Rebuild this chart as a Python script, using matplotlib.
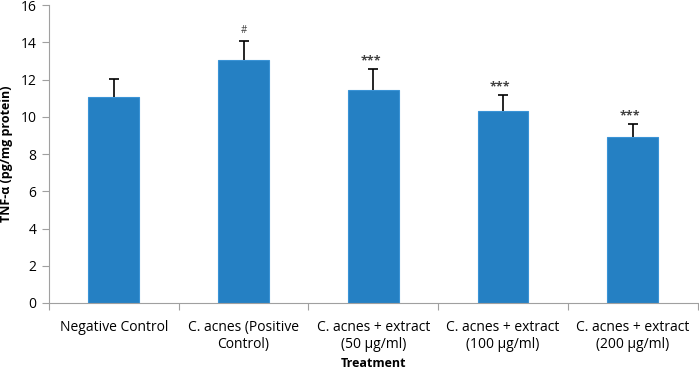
import matplotlib.pyplot as plt
import numpy as np

plt.rcParams['font.family'] = ['Open Sans', 'DejaVu Sans']

labels = ["Negative Control", "C. acnes (Positive\nControl)", "C. acnes + extract\n(50 µg/ml)",
          "C. acnes + extract\n(100 µg/ml)", "C. acnes + extract\n(200 µg/ml)"]
means = [11.07, 13.06, 11.45, 10.32, 8.92]
errors = [0.97, 1.02, 1.13, 0.86, 0.70]
marks = ["", "#", "***", "***", "***"]

fig = plt.figure(figsize=(6.99, 3.69), dpi=100)
ax = fig.add_axes([0.070, 0.179, 0.928, 0.807])

x = np.arange(len(labels))
ax.bar(x, means, width=0.39, color="#2580C3", edgecolor="#3A93D6", linewidth=0.8, zorder=2)
eb = ax.errorbar(x, means, yerr=[np.zeros(len(errors)), errors], fmt="none", ecolor="black",
                 elinewidth=1.2, capsize=3.5, capthick=1.2, zorder=3)
# hide the lower caps, only the upper half of the error bar is shown
eb[1][0].set_visible(False)

for xi, m, e, s in zip(x, means, errors, marks):
    if s == "#":
        ax.text(xi, m + e + 0.25, s, ha="center", va="bottom", fontsize=7, color="#404040")
    elif s:
        ax.text(xi - 0.02, m + e + 0.1, s, ha="center", va="bottom", fontsize=9,
                fontweight="bold", color="#404040")

ax.set_xlim(-0.5, len(labels) - 0.5)
ax.set_ylim(0, 16)
ax.set_yticks(range(0, 17, 2))
ax.set_xticks(np.arange(-0.5, len(labels), 1), minor=False)
ax.set_xticklabels([])
ax.set_xticks(x, minor=True)
ax.set_xticklabels(labels, minor=True, fontsize=10)
ax.tick_params(axis="x", which="minor", length=0, pad=12)
ax.tick_params(axis="x", which="major", length=5, color="#A0A0A0")
ax.tick_params(axis="y", length=5, color="#A0A0A0", labelsize=10, pad=4)

for side in ["top", "right"]:
    ax.spines[side].set_visible(False)
for side in ["left", "bottom"]:
    ax.spines[side].set_color("#A0A0A0")

ax.set_ylabel("TNF-α (pg/mg protein)", fontsize=9, fontweight="bold", labelpad=5)
ax.set_xlabel("Treatment", fontsize=9, fontweight="bold", labelpad=4)

plt.savefig("out.png", dpi=100)
